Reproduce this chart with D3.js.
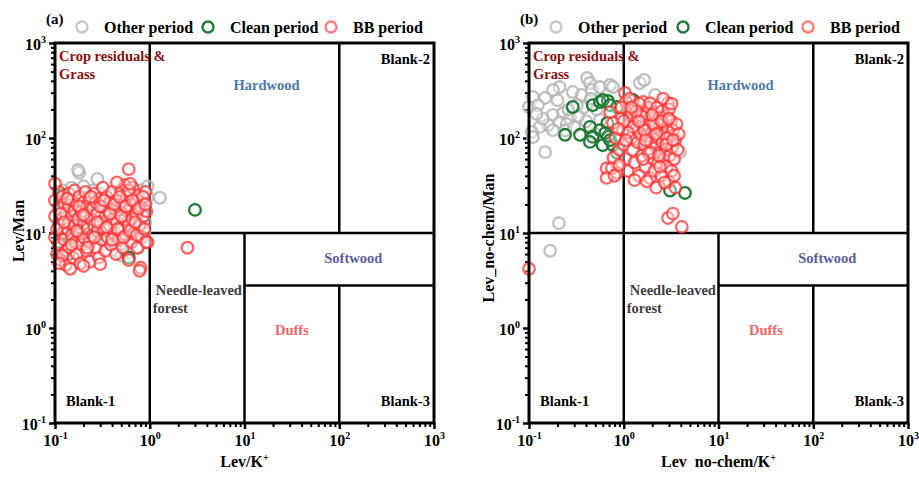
<!DOCTYPE html>
<html>
<head>
<meta charset="utf-8">
<script src="https://cdn.jsdelivr.net/npm/d3@7"></script>
<style>
  body { margin: 0; background: #fff; }
  text { font-family: "Liberation Serif", "Times New Roman", serif; font-weight: bold; }
</style>
</head>
<body>
<svg id="chart" width="919" height="477"></svg>
<script>
// tick values (decades) for both axes
var decades = [0.1, 1, 10, 100, 1000];

// source-region boundaries: [x1, y1, x2, y2] in data units
var regionLines = [
  [1, 0.1, 1, 1000],
  [0.1, 10, 1000, 10],
  [100, 10, 100, 1000],
  [10, 0.1, 10, 10],
  [10, 2.8, 1000, 2.8],
  [100, 0.1, 100, 2.8]
];

// panel (a): Lev/K+ vs Lev/Man
var otherA = [[0.18,43],[0.175,46],[0.28,37],[1.28,23.5],[0.95,24],[0.12,28],[0.15,30],[0.25,28],[0.4,25],
  [0.5,20],[0.7,22],[0.75,18],[0.8,28],[0.35,8],[0.45,6.5],[0.55,9],[0.62,7.5],[0.85,20],[0.9,13],[0.7,11],
  [0.6,6.2],[0.3,26],[0.2,31],[0.65,16],[0.42,15],[0.25,12],[0.18,15],[0.13,9],[0.5,5.8],[0.76,7],[0.88,10],[0.95,31]];
var cleanA = [[0.12,22],[0.13,11],[0.14,12.5],[0.15,9],[0.16,18],[0.11,8],[0.12,25],[0.17,14],[0.14,6],
  [0.6,5.5],[3,17.5],[0.25,20],[0.55,14],[0.18,10.5]];
var bbA = [[0.10,22],[0.10,15],[0.10,9],[0.105,6],[0.11,27],[0.11,18],[0.11,12],[0.11,7.5],[0.115,5.2],[0.12,24],
  [0.12,14],[0.12,10],[0.125,20],[0.125,8.5],[0.13,6.5],[0.13,16],[0.13,4.6],[0.135,11],[0.14,26],[0.14,19],
  [0.14,13],[0.14,7],[0.145,4.2],[0.15,22],[0.15,15],[0.15,9.5],[0.155,5.5],[0.16,17],[0.16,12],[0.16,28],
  [0.165,8],[0.17,20],[0.17,6],[0.175,14],[0.18,10],[0.18,24],[0.185,4.8],[0.19,17],[0.19,7.5],[0.2,21],
  [0.2,12.5],[0.2,9],[0.21,27],[0.21,15],[0.215,6.5],[0.22,19],[0.22,11],[0.23,8],[0.23,23],[0.235,5],
  [0.24,14],[0.25,18],[0.25,9.5],[0.26,26],[0.26,12],[0.27,7],[0.27,21],[0.28,16],[0.28,10.5],[0.29,5.5],
  [0.3,23],[0.3,13],[0.31,8.5],[0.32,19],[0.32,30],[0.33,11],[0.34,15],[0.34,6.5],[0.35,24],[0.36,9],
  [0.37,17],[0.38,12],[0.38,21],[0.39,7.5],[0.4,27],[0.41,14],[0.42,10],[0.43,18],[0.44,6],[0.45,22],
  [0.45,13],[0.47,8.5],[0.48,16],[0.5,28],[0.5,11],[0.52,20],[0.52,7],[0.54,14],[0.55,32],[0.56,9.5],
  [0.57,24],[0.58,17],[0.6,12],[0.6,5.2],[0.62,26],[0.63,19],[0.64,8],[0.65,14],[0.66,30],[0.68,10],
  [0.7,21],[0.72,16],[0.74,7],[0.75,25],[0.78,12],[0.8,19],[0.82,9],[0.85,15],[0.8,4.3],[0.78,4],
  [0.6,47],[0.9,27],[0.92,17],[0.95,8],[2.5,7],[0.1,33],[0.45,34],[0.12,5.8],[0.2,4.5],[0.3,4.7],
  [0.105,11],[0.115,16],[0.125,13],[0.135,23],[0.15,7.5],[0.17,10.5],[0.18,19],[0.2,15.5],[0.22,7],[0.24,24],
  [0.26,9],[0.28,13],[0.3,19],[0.33,22],[0.35,11.5],[0.38,16],[0.4,8.5],[0.42,20],[0.46,11],[0.48,24],
  [0.5,15],[0.53,9],[0.56,19],[0.6,28],[0.62,10.5],[0.66,22],[0.7,13],[0.73,9.5],[0.76,18],[0.85,24],
  [0.88,11],[0.92,8],[0.62,33],[0.9,20],[0.11,4.8]];

// panel (b): Lev_no-chem/K+ vs Lev_no-chem/Man
var otherB = [[0.41,428],[0.44,379],[0.21,344],[0.179,320],[0.148,264],[0.11,270],[0.1,212],[0.124,222],
  [0.29,305],[0.36,284],[0.46,320],[0.56,344],[0.716,361],[0.179,175],[0.229,183],[0.271,162],[0.21,147],
  [0.159,137],[0.13,131],[0.107,116],[0.11,102],[0.179,121],[0.37,207],[0.32,222],[0.148,71],[1.48,379],
  [1.64,408],[0.77,344],[2.14,284],[3.92,71],[0.207,12.7],[0.167,6.5],[0.91,95],[2.4,155],[1.16,251],
  [1.9,197],[0.56,155],[0.5,110],[0.25,140],[0.4,150],[0.14,160],[0.2,250],[0.26,200],[0.33,170],
  [0.24,120],[0.45,260],[0.12,180],[0.3,130],[0.52,200]];
var cleanB = [[0.29,212],[0.47,222],[0.56,239],[0.68,245],[0.85,212],[0.24,108],[0.345,108],[0.44,131],
  [0.56,121],[0.47,103],[0.68,103],[0.6,84],[0.77,84],[0.44,91],[0.85,70],[0.6,251],[0.716,222],[1.25,251],
  [0.67,144],[0.64,113],[0.716,95],[3.08,28],[4.43,26.4]];
var bbB = [[0.66,48],[0.66,38],[0.85,43],[0.78,62],[0.9,75],[0.95,160],[0.98,120],[0.72,187],[0.82,100],[0.77,144],
  [1.03,298],[1.05,240],[1.1,200],[1.0,85],[1.05,60],[1.1,45],[1.15,140],[1.2,100],[1.2,170],[1.25,75],
  [1.3,220],[1.3,55],[1.35,125],[1.4,90],[1.4,160],[1.45,40],[1.5,190],[1.5,110],[1.55,65],[1.6,240],
  [1.6,140],[1.65,85],[1.7,50],[1.7,175],[1.75,105],[1.8,210],[1.8,70],[1.85,130],[1.9,38],[1.9,155],
  [1.95,90],[1.9,233],[2.0,115],[2.05,60],[2.1,185],[2.1,45],[2.15,135],[2.2,80],[2.25,210],[2.3,100],
  [2.3,55],[2.35,160],[2.4,70],[2.45,120],[2.5,40],[2.5,190],[2.55,90],[2.6,145],[2.65,60],[2.93,233],
  [2.7,110],[2.75,75],[2.8,170],[2.85,50],[2.9,130],[2.95,90],[3.0,35],[3.0,200],[3.05,65],[3.1,105],
  [3.15,150],[3.2,45],[3.25,80],[3.3,120],[3.4,60],[3.5,95],[3.5,30],[3.6,140],[3.7,75],[3.8,110],
  [2.2,30],[1.75,35],[1.25,130],[1.45,230],[2.6,260],[3.2,230],[1.15,260],[0.95,210],[2.93,14.4],[3.3,16],
  [4.1,11.6],[0.1,4.2],[1.55,170],[2.05,140],[1.35,190],[2.85,100],[1.9,70],[2.4,50],[1.1,115],[1.65,120],
  [0.75,48],[0.8,40],[0.9,52],[1.3,36],[2.7,34],[3.4,40],[1.0,150],[1.2,210],[1.45,150],[1.7,95],
  [2.0,175],[2.2,110],[2.5,150],[2.8,85],[3.0,160],[1.6,60],[2.35,65],[1.05,95],[0.88,125],[3.3,95]];

var panels = [
  { tag: "(a)", left: 55, right: 434, other: otherA, clean: cleanA, bb: bbA,
    xlab: "Lev/K", ylab: "Lev/Man", ylabX: 18, ylabY: 231, legendX: [82, 208, 331] },
  { tag: "(b)", left: 529, right: 908, other: otherB, clean: cleanB, bb: bbB,
    xlab: "Lev\u00a0\u00a0no-chem/K", ylab: "Lev_no-chem/Man", ylabX: 488, ylabY: 238, legendX: [556, 683, 808] }
];

var plotTop = 43, plotBottom = 423;
var svg = d3.select("#chart");

var styles = {
  other: { stroke: "rgba(180,180,180,0.85)", fill: "rgba(255,255,255,0.35)" },
  clean: { stroke: "#1f7a35", fill: "rgba(255,255,255,0.15)" },
  bb:    { stroke: "rgba(255,50,50,0.75)", fill: "rgba(255,255,255,0.4)" }
};

function supLabel(sel, d) {
  var e = Math.round(Math.log10(d));
  sel.text("10");
  sel.append("tspan").attr("dy", -7).attr("font-size", "10px").text(e);
}

panels.forEach(function(p) {
  var x = d3.scaleLog().domain([0.1, 1000]).range([p.left, p.right]);
  var y = d3.scaleLog().domain([0.1, 1000]).range([plotBottom, plotTop]);
  var g = svg.append("g");

  // minor ticks
  var minor = x.ticks().filter(function(t) { return decades.indexOf(t) < 0; });
  g.append("g").attr("transform", "translate(0," + plotBottom + ")")
    .call(d3.axisBottom(x).tickValues(minor).tickSize(4).tickFormat(""))
    .call(function(a) { a.select(".domain").remove(); a.selectAll("line").attr("stroke-width", 2); });
  g.append("g").attr("transform", "translate(" + p.left + ",0)")
    .call(d3.axisLeft(y).tickValues(minor).tickSize(4).tickFormat(""))
    .call(function(a) { a.select(".domain").remove(); a.selectAll("line").attr("stroke-width", 2); });

  // major ticks + labels
  var xa = g.append("g").attr("transform", "translate(0," + plotBottom + ")")
    .call(d3.axisBottom(x).tickValues(decades).tickSize(6).tickPadding(6).tickFormat(""));
  xa.select(".domain").remove();
  xa.selectAll("line").attr("stroke-width", 2.5);
  xa.selectAll("text").attr("font-size", "16px").attr("fill", "#000").attr("dy", "0.71em")
    .each(function(d) { supLabel(d3.select(this), d); });

  var ya = g.append("g").attr("transform", "translate(" + p.left + ",0)")
    .call(d3.axisLeft(y).tickValues(decades).tickSize(6).tickPadding(3).tickFormat(""));
  ya.select(".domain").remove();
  ya.selectAll("line").attr("stroke-width", 2.5);
  ya.selectAll("text").attr("font-size", "16px").attr("fill", "#000").attr("dy", "0.38em")
    .each(function(d) { supLabel(d3.select(this), d); });

  // region boundaries
  g.append("g").selectAll("line").data(regionLines).join("line")
    .attr("x1", function(d) { return x(d[0]); }).attr("y1", function(d) { return y(d[1]); })
    .attr("x2", function(d) { return x(d[2]); }).attr("y2", function(d) { return y(d[3]); })
    .attr("stroke", "#000").attr("stroke-width", 2.5);

  // points: other, clean, bb
  [["other", p.other], ["clean", p.clean], ["bb", p.bb]].forEach(function(s) {
    g.append("g").selectAll("circle").data(s[1]).join("circle")
      .attr("cx", function(d) { return x(d[0]); })
      .attr("cy", function(d) { return y(d[1]); })
      .attr("r", 5.8)
      .attr("fill", styles[s[0]].fill)
      .attr("stroke", styles[s[0]].stroke)
      .attr("stroke-width", 2.3);
  });

  // frame
  g.append("rect").attr("x", p.left).attr("y", plotTop)
    .attr("width", p.right - p.left).attr("height", plotBottom - plotTop)
    .attr("fill", "none").attr("stroke", "#000").attr("stroke-width", 3);

  // region labels
  var lab = g.append("g").attr("font-size", "14.5px");
  lab.append("text").attr("x", p.left + 4).attr("y", 61).attr("fill", "#8b1010").text("Crop residuals &");
  lab.append("text").attr("x", p.left + 4).attr("y", 79).attr("fill", "#8b1010").text("Grass");
  lab.append("text").attr("x", (x(1) + x(100)) / 2 + 22).attr("y", 90).attr("text-anchor", "middle")
    .attr("fill", "#4a78ac").text("Hardwood");
  lab.append("text").attr("x", p.right - 4).attr("y", 64).attr("text-anchor", "end").text("Blank-2");
  lab.append("text").attr("x", (x(10) + x(1000)) / 2 + 14).attr("y", 263).attr("text-anchor", "middle")
    .attr("fill", "#5c5e9e").text("Softwood");
  lab.append("text").attr("x", x(1) + 6).attr("y", 295).attr("fill", "#404040").text("Needle-leaved");
  lab.append("text").attr("x", x(1) + 3).attr("y", 313).attr("fill", "#404040").text("forest");
  lab.append("text").attr("x", (x(10) + x(100)) / 2).attr("y", 335).attr("text-anchor", "middle")
    .attr("fill", "#f26565").text("Duffs");
  lab.append("text").attr("x", p.left + 11).attr("y", 406).text("Blank-1");
  lab.append("text").attr("x", p.right - 4).attr("y", 406).attr("text-anchor", "end").text("Blank-3");

  // axis titles
  var xt = g.append("text").attr("x", (p.left + p.right) / 2).attr("y", 467)
    .attr("text-anchor", "middle").attr("font-size", "16px").text(p.xlab);
  xt.append("tspan").attr("dy", -6).attr("font-size", "10px").text("+");
  g.append("text").attr("transform", "translate(" + p.ylabX + "," + p.ylabY + ") rotate(-90)")
    .attr("text-anchor", "middle").attr("font-size", "16px").attr("dy", "0.35em").text(p.ylab);

  // panel tag and legend
  g.append("text").attr("x", p.left - 9).attr("y", 24).attr("font-size", "15px").text(p.tag);
  var names = ["Other period", "Clean period", "BB period"];
  var keys = ["other", "clean", "bb"];
  var legendStroke = ["#c8c8c8", "#1f7a35", "#ff7b7b"];
  keys.forEach(function(k, i) {
    g.append("circle").attr("cx", p.legendX[i]).attr("cy", 27).attr("r", 5.5)
      .attr("fill", "none").attr("stroke", legendStroke[i]).attr("stroke-width", 2.4);
    g.append("text").attr("x", p.legendX[i] + 22).attr("y", 33).attr("font-size", "16px").text(names[i]);
  });
});
</script>
</body>
</html>
